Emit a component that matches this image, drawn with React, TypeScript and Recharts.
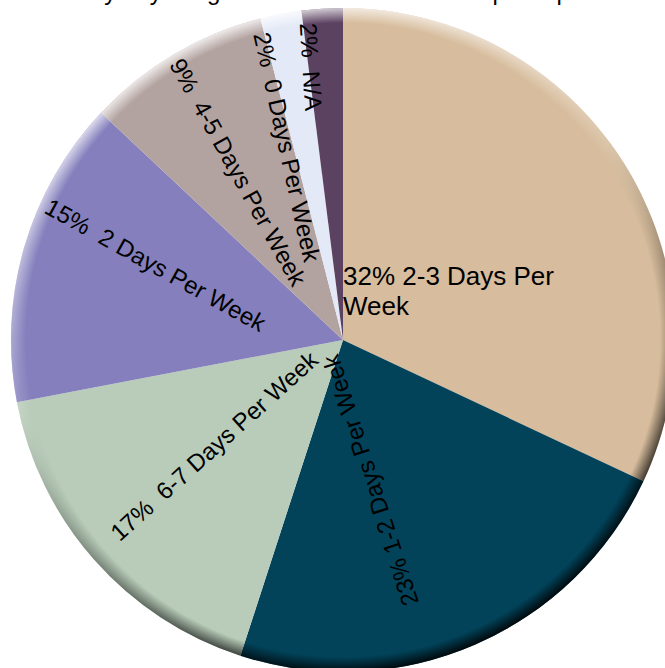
import React from 'react';
import { PieChart, Pie, Cell } from 'recharts';

// ---- data ----
const categories = [
  '2-3 Days Per Week',
  '1-2 Days Per Week',
  '6-7 Days Per Week',
  '2 Days Per Week',
  '4-5 Days Per Week',
  '0 Days Per Week',
  'N/A',
];
const percentages = [32, 23, 17, 15, 9, 2, 2];
const labelLines: string[][] = [
  ['32% 2-3 Days Per', 'Week'],
  ['23% 1-2 Days Per Week'],
  ['17%  6-7 Days Per Week'],
  ['15%  2 Days Per Week'],
  ['9%  4-5 Days Per Week'],
  ['2%  0 Days Per Week'],
  ['2%  N/A'],
];
const sliceColors = ['#D7BD9D', '#02435A', '#B8CCB9', '#8580BD', '#B3A3A0', '#E3E9F6', '#5C4261'];
const titleText = 'Weekly days of golf and other recreational participation';

// ---- layout (label placement relative to each slice's mid angle) ----
const labelLayout = [
  { r: 0, dTheta: 0, dRot: 0 },
  { r: 143, dTheta: 12.4, dRot: 5.4 },
  { r: 167, dTheta: 2, dRot: -0.6 },
  { r: 202, dTheta: 5.6, dRot: 12.8 },
  { r: 198, dTheta: -1.4, dRot: 1.6 },
  { r: 201, dTheta: -5.4, dRot: -1.7 },
  { r: 275, dTheta: -3.1, dRot: 0 },
];

const W = 665;
const H = 668;
const CX = 343;
const CY = 340;
const R = 332;
const FONT = '"Liberation Sans", Arial, Helvetica, sans-serif';

const data = categories.map((name, i) => ({ name, value: percentages[i] }));

const renderLabel = (props: any) => {
  const { cx, cy, midAngle, index } = props;
  const lines = labelLines[index];
  if (index === 0) {
    return (
      <text
        x={cx}
        y={cy - 55}
        fill="#000"
        fontSize={26}
        fontFamily={FONT}
        textAnchor="start"
      >
        <tspan x={cx} dy={0}>{lines[0]}</tspan>
        <tspan x={cx} dy={30}>{lines[1]}</tspan>
      </text>
    );
  }
  const lay = labelLayout[index];
  const thetaMid = 90 - midAngle; // clockwise from 12 o'clock
  const theta = thetaMid + lay.dTheta;
  const rad = (theta * Math.PI) / 180;
  const x = cx + lay.r * Math.sin(rad);
  const y = cy - lay.r * Math.cos(rad);
  let rot = 90 + thetaMid + lay.dRot;
  while (rot > 180) rot -= 360;
  while (rot <= -180) rot += 360;
  return (
    <text
      x={x}
      y={y}
      fill="#000"
      fontSize={24}
      fontFamily={FONT}
      textAnchor="middle"
      dominantBaseline="central"
      style={{ whiteSpace: 'pre' }}
      transform={`rotate(${rot}, ${x}, ${y})`}
    >
      {lines[0]}
    </text>
  );
};

export default function App() {
  return (
    <div style={{ position: 'absolute', left: 0, top: 0, width: W, height: H, overflow: 'hidden', background: '#fff' }}>
      <svg width={0} height={0} style={{ position: 'absolute' }}>
        <defs>
          <radialGradient id="rimMaskGrad" gradientUnits="userSpaceOnUse" cx={CX} cy={CY} r={R}>
            <stop offset="0" stopColor="#000" />
            <stop offset="0.955" stopColor="#000" />
            <stop offset="1" stopColor="#fff" />
          </radialGradient>
          <mask id="rimMask" maskUnits="userSpaceOnUse" x={0} y={0} width={W} height={H}>
            <rect x={0} y={0} width={W} height={H} fill="url(#rimMaskGrad)" />
          </mask>
          <linearGradient id="rimShade" gradientUnits="userSpaceOnUse" x1={200} y1={30} x2={486} y2={650}>
            <stop offset="0" stopColor="#fff" stopOpacity={0.8} />
            <stop offset="0.4" stopColor="#fff" stopOpacity={0.15} />
            <stop offset="0.55" stopColor="#000" stopOpacity={0.2} />
            <stop offset="1" stopColor="#000" stopOpacity={0.9} />
          </linearGradient>
        </defs>
      </svg>
      <style>{'.rim-overlay path { mask: url(#rimMask); }'}</style>
      <PieChart width={W} height={H} margin={{ top: 0, right: 0, bottom: 0, left: 0 }}>
        <Pie
          data={data}
          dataKey="value"
          nameKey="name"
          cx={CX}
          cy={CY}
          outerRadius={R}
          innerRadius={0}
          startAngle={90}
          endAngle={-270}
          stroke="none"
          label={renderLabel}
          labelLine={false}
          isAnimationActive={false}
        >
          {data.map((d, i) => (
            <Cell key={d.name} fill={sliceColors[i]} stroke="none" />
          ))}
        </Pie>
        <Pie
          data={data}
          dataKey="value"
          nameKey="name"
          cx={CX}
          cy={CY}
          outerRadius={R}
          innerRadius={0}
          startAngle={90}
          endAngle={-270}
          stroke="none"
          className="rim-overlay"
          isAnimationActive={false}
          legendType="none"
        >
          {data.map((d) => (
            <Cell key={d.name} fill="url(#rimShade)" stroke="none" mask="url(#rimMask)" />
          ))}
        </Pie>
      </PieChart>
      <svg width={W} height={12} style={{ position: 'absolute', left: 0, top: 0, pointerEvents: 'none' }}>
        <text x={330} y={0} textAnchor="middle" fontSize={24} fontFamily={FONT} fill="#000">
          {titleText}
        </text>
      </svg>
    </div>
  );
}
